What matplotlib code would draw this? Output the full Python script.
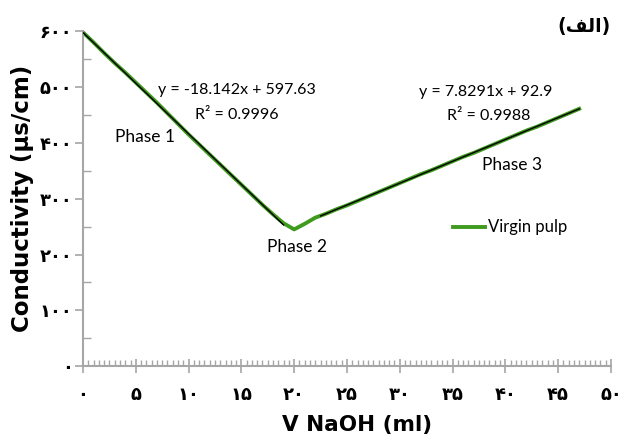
import numpy as np
import matplotlib
matplotlib.use('Agg')
import matplotlib.pyplot as plt
from matplotlib.ticker import MultipleLocator, FixedLocator

# titration data
v_naoh = [0, 1, 2, 3, 4, 5, 6, 7, 8, 9, 10, 11, 12, 13, 14, 15, 16, 17, 18, 19,
          20, 21, 22, 23, 24, 25, 26, 27, 28, 29, 30, 31, 32, 33, 34, 35, 36, 37,
          38, 39, 40, 41, 42, 43, 44, 45, 46, 47]
conductivity = [598, 580, 561, 543, 526, 508, 490, 472, 453, 434, 415, 397, 379,
                361, 343, 325, 307, 289, 272, 256, 245, 255, 266, 273, 281, 288,
                296, 304, 312, 320, 328, 336, 344, 351, 359, 367, 375, 382, 390,
                398, 406, 414, 422, 429, 437, 445, 453, 461]

# trendlines as printed on the chart
fit1 = (-18.142, 597.63)
fit2 = (7.8291, 92.9)
fit1_range = (0, 19)
fit2_range = (22.5, 47)

x_ticks = [0, 5, 10, 15, 20, 25, 30, 35, 40, 45, 50]
y_ticks = [0, 100, 200, 300, 400, 500, 600]

fa_digits = str.maketrans('0123456789', '۰۱۲۳۴۵۶۷۸۹')
def fa(n):
    return str(n).translate(fa_digits)

green = '#3f9b1e'
grey = '#a6a6a6'
ann_font = ['Lato', 'DejaVu Sans']

fig = plt.figure(figsize=(6.24, 4.46), dpi=100)
ax = fig.add_axes([0.133, 0.179, 0.846, 0.751])

ax.plot(v_naoh, conductivity, color=green, lw=2.8, zorder=2)
for (m, b), (x0, x1) in [(fit1, fit1_range), (fit2, fit2_range)]:
    xs = np.array([x0, x1])
    ax.plot(xs, m * xs + b, color='black', lw=1.0, zorder=3)

ax.set_xlim(0, 50)
ax.set_ylim(0, 600)

for s in ['top', 'right']:
    ax.spines[s].set_visible(False)
for s in ['left', 'bottom']:
    ax.spines[s].set_color(grey)
    ax.spines[s].set_linewidth(1.5)

ax.xaxis.set_major_locator(FixedLocator(x_ticks))
ax.yaxis.set_major_locator(FixedLocator(y_ticks))
ax.xaxis.set_minor_locator(MultipleLocator(0.5))
ax.yaxis.set_minor_locator(MultipleLocator(50))
ax.set_xticklabels([fa(t) for t in x_ticks], fontweight='bold', fontsize=13)
ax.set_yticklabels([fa(t) for t in y_ticks], fontweight='bold', fontsize=13)
ax.tick_params(axis='x', which='major', direction='inout', length=10, width=1.2,
               color=grey, pad=9)
ax.tick_params(axis='x', which='minor', direction='in', length=4, width=1.0, color=grey)
ax.tick_params(axis='y', which='major', direction='out', length=6, width=1.2,
               color=grey, pad=1.5)
ax.tick_params(axis='y', which='minor', direction='in', length=6, width=1.0, color=grey)

ax.set_xlabel('V NaOH (ml)', fontsize=15.5, fontweight='bold')
ax.set_ylabel('Conductivity (µs/cm)', fontsize=16.5, fontweight='bold')
ax.xaxis.set_label_coords(0.519, -0.145)
ax.yaxis.set_label_coords(-0.092, 0.5)

ax.text(14.6, 494, 'y = -18.142x + 597.63', ha='center', va='center', fontsize=11.5, family=ann_font)
ax.text(14.6, 450, 'R² = 0.9996', ha='center', va='center', fontsize=11.5, family=ann_font)
ax.text(5.9, 410, 'Phase 1', ha='center', va='center', fontsize=12.5, family=ann_font)
ax.text(20.3, 213, 'Phase 2', ha='center', va='center', fontsize=12.5, family=ann_font)
ax.text(38.1, 491, 'y = 7.8291x + 92.9', ha='center', va='center', fontsize=11.5, family=ann_font)
ax.text(38.4, 448, 'R² = 0.9988', ha='center', va='center', fontsize=11.5, family=ann_font)
ax.text(40.6, 360, 'Phase 3', ha='center', va='center', fontsize=12.5, family=ann_font)

ax.plot([35.0, 38.1], [249, 249], color=green, lw=2.8, clip_on=False)
ax.text(38.4, 249, 'Virgin pulp', ha='left', va='center', fontsize=12, family=ann_font)

# panel label "(alef)" written in visual order with presentation forms
fig.text(0.936, 0.94, '(\ufed2\ufedf\ufe8d)', ha='center', va='center',
         fontsize=13.5, fontweight='bold')

fig.savefig('out.png', dpi=100)
